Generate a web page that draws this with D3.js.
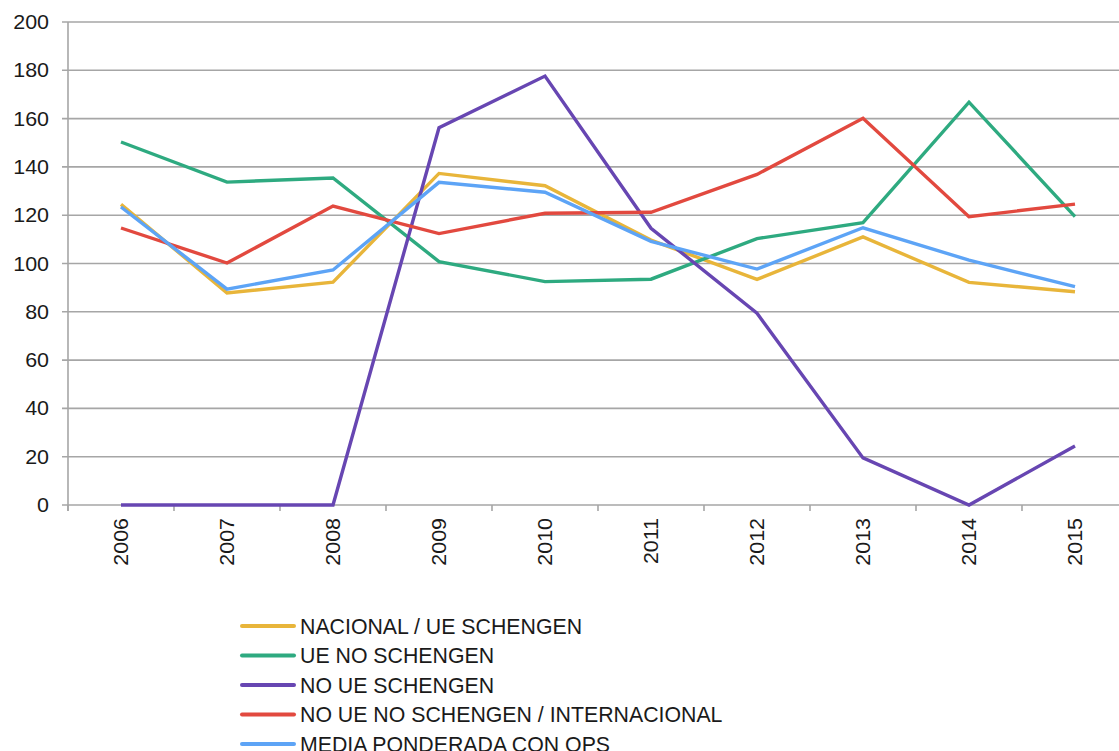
<!DOCTYPE html>
<html>
<head>
<meta charset="utf-8">
<script src="https://cdn.jsdelivr.net/npm/d3@7"></script>
<style>
body { margin: 0; background: #fff; overflow: hidden; }
svg { display: block; font-family: "Liberation Sans", Arial, sans-serif; }
</style>
</head>
<body>
<svg id="chart" width="1119" height="751"></svg>
<script>
const years = ["2006","2007","2008","2009","2010","2011","2012","2013","2014","2015"];
const seriesNames = ["NACIONAL / UE SCHENGEN","UE NO SCHENGEN","NO UE SCHENGEN","NO UE NO SCHENGEN / INTERNACIONAL","MEDIA PONDERADA CON OPS"];
const nacional = [124.5, 87.8, 92.3, 137.3, 132.2, 109.7, 93.4, 111.0, 92.2, 88.3];
const ueNoSchengen = [150.3, 133.7, 135.4, 100.8, 92.5, 93.5, 110.3, 116.9, 166.8, 119.4];
const noUeSchengen = [0, 0, 0, 156.2, 177.6, 114.6, 79.4, 19.5, 0, 24.4];
const noUeNoSchengen = [114.7, 100.2, 123.8, 112.4, 120.8, 121.2, 136.9, 160.1, 119.4, 124.6];
const mediaPonderada = [123.4, 89.4, 97.3, 133.6, 129.5, 109.2, 97.7, 114.8, 101.4, 90.4];
const yTicks = [0, 20, 40, 60, 80, 100, 120, 140, 160, 180, 200];
const colors = ["#E8B53A", "#2EAA80", "#6746B2", "#E2493F", "#5DA4F6"];

const seriesValues = [nacional, ueNoSchengen, noUeSchengen, noUeNoSchengen, mediaPonderada];

const svg = d3.select("#chart");
const mLeft = 68, mRight = 1128, mTop = 22, mBottom = 505;

const x = d3.scaleBand().domain(years).range([mLeft, mRight]);
const y = d3.scaleLinear().domain([0, 200]).range([mBottom, mTop]);

// gridlines
svg.append("g").selectAll("line").data(yTicks).join("line")
  .attr("x1", mLeft - 6).attr("x2", mRight)
  .attr("y1", d => y(d)).attr("y2", d => y(d))
  .attr("stroke", "#a6a6a6").attr("stroke-width", 1.6);

// y labels
svg.append("g").selectAll("text").data(yTicks).join("text")
  .attr("transform", d => `translate(${mLeft - 19},${y(d)}) scale(1.1,1)`)
  .attr("dy", "0.36em")
  .attr("text-anchor", "end").attr("font-size", 19.5).attr("fill", "#1a1a1a")
  .text(d => d);

// y axis line
svg.append("line").attr("x1", mLeft).attr("x2", mLeft).attr("y1", mTop).attr("y2", mBottom + 6)
  .attr("stroke", "#a6a6a6").attr("stroke-width", 1.6);

// x ticks at band boundaries
const bounds = years.map(d => x(d)).concat([mRight]);
svg.append("g").selectAll("line").data(bounds).join("line")
  .attr("x1", d => d).attr("x2", d => d).attr("y1", mBottom).attr("y2", mBottom + 6)
  .attr("stroke", "#a6a6a6").attr("stroke-width", 1.6);

// x labels rotated
svg.append("g").selectAll("text").data(years).join("text")
  .attr("transform", d => `translate(${x(d) + x.bandwidth() / 2 + 7},${mBottom + 13}) rotate(-90) scale(1.1,1)`)
  .attr("text-anchor", "end").attr("font-size", 19.5).attr("fill", "#1a1a1a")
  .text(d => d);

// lines
const line = d3.line()
  .x((d, i) => x(years[i]) + x.bandwidth() / 2)
  .y(d => y(d));

svg.append("g").selectAll("path").data(seriesValues).join("path")
  .attr("d", d => line(d))
  .attr("fill", "none")
  .attr("stroke", (d, i) => colors[i])
  .attr("stroke-width", 3.4)
  .attr("stroke-linejoin", "miter");

// legend
const legend = svg.append("g");
const lg = legend.selectAll("g").data(seriesNames).join("g")
  .attr("transform", (d, i) => `translate(242,${626 + i * 29.5})`);
lg.append("line").attr("x1", 0).attr("x2", 52).attr("y1", 0).attr("y2", 0)
  .attr("stroke", (d, i) => colors[i]).attr("stroke-width", 4).attr("stroke-linecap", "round");
lg.append("text").attr("x", 58).attr("y", 0).attr("dy", "0.36em")
  .attr("font-size", 21.3).attr("fill", "#1a1a1a").text(d => d);
</script>
</body>
</html>
